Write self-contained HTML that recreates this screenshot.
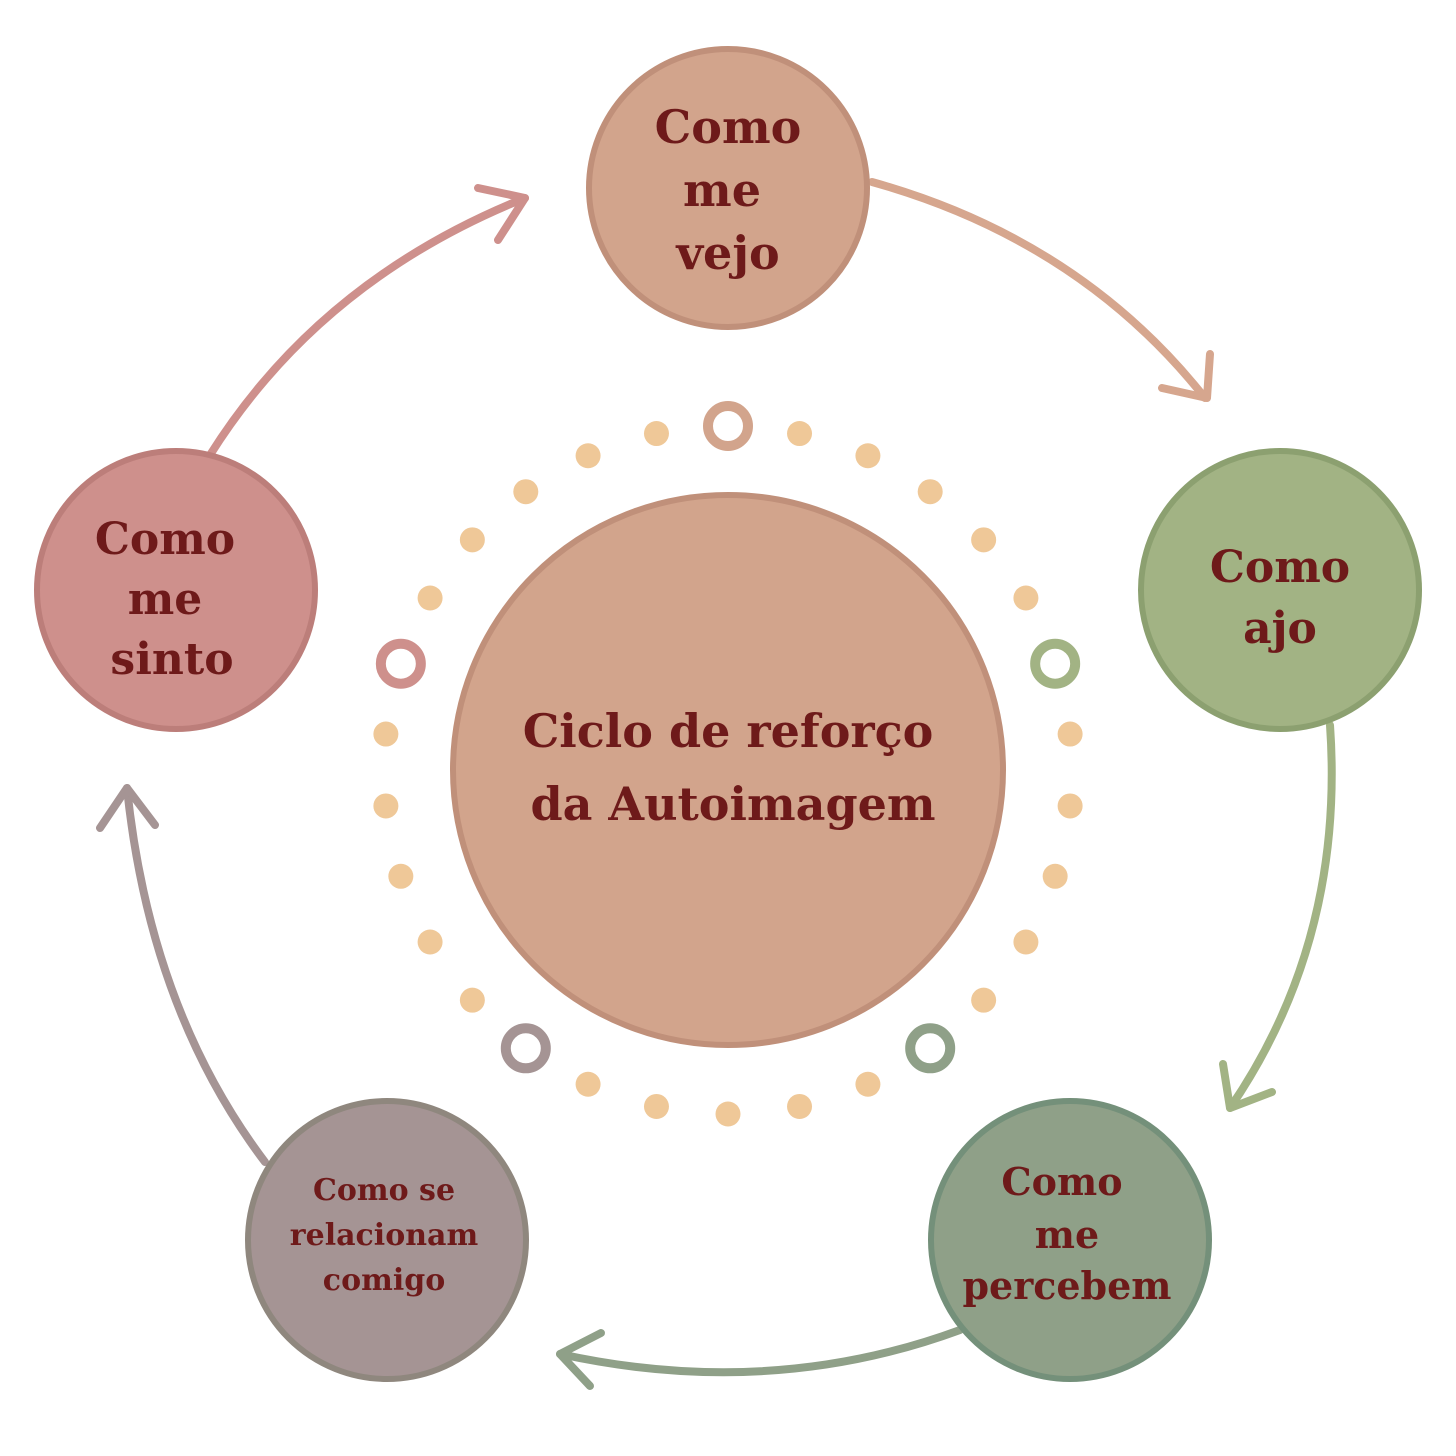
<!DOCTYPE html>
<html><head><meta charset="utf-8"><style>
html,body{margin:0;padding:0;background:#fff;}
svg{display:block}
text{font-family:"DejaVu Serif","Liberation Serif",serif;font-weight:bold;fill:#6E1A1A;text-anchor:middle}
</style></head><body>
<svg width="1456" height="1456" viewBox="0 0 1456 1456" xmlns="http://www.w3.org/2000/svg">
<g fill="none" stroke-width="8" stroke-linecap="round" stroke-linejoin="round">
<path d="M872 182 Q1080 240 1205 398" stroke="#D6A68E"/>
<path d="M1162 388 L1207 398 L1210 354" stroke="#D6A68E"/>
<path d="M1330 725 Q1345 940 1230 1108" stroke="#A2B384"/>
<path d="M1223 1064 L1230 1108 L1272 1092" stroke="#A2B384"/>
<path d="M960 1330 Q770 1400 560 1354" stroke="#8FA088"/>
<path d="M601 1333 L560 1354 L590 1386" stroke="#8FA088"/>
<path d="M265 1162 Q150 1010 127 788" stroke="#A59494"/>
<path d="M100 828 L127 788 L155 825" stroke="#A59494"/>
<path d="M210 455 Q320 280 525 198" stroke="#CE908C"/>
<path d="M478 188 L525 198 L498 240" stroke="#CE908C"/>
</g>
<g stroke-width="6">
<circle cx="728" cy="188" r="139" fill="#D2A48C" stroke="#C0907A"/>
<circle cx="1280" cy="590" r="139" fill="#A2B384" stroke="#8CA070"/>
<circle cx="1070" cy="1240" r="139" fill="#8FA088" stroke="#74907A"/>
<circle cx="387" cy="1240" r="139" fill="#A59494" stroke="#8F877E"/>
<circle cx="176" cy="590" r="139" fill="#CE908C" stroke="#BC7E7A"/>
<circle cx="728" cy="770" r="275" fill="#D2A48C" stroke="#C0907A"/>
</g>
<g id="dots"></g>
<text x="728" y="143" font-size="46">Como</text>
<text x="722" y="206" font-size="46">me</text>
<text x="728" y="269" font-size="46">vejo</text>
<text x="1280" y="582" font-size="44">Como</text>
<text x="1280" y="643" font-size="44">ajo</text>
<text x="1062" y="1195" font-size="38">Como</text>
<text x="1067" y="1248" font-size="38">me</text>
<text x="1067" y="1299" font-size="38">percebem</text>
<text x="384" y="1200" font-size="30">Como se</text>
<text x="384" y="1245" font-size="30">relacionam</text>
<text x="384" y="1290" font-size="30">comigo</text>
<text x="165" y="554" font-size="44">Como</text>
<text x="165" y="614" font-size="44">me</text>
<text x="172" y="674" font-size="44">sinto</text>
<text x="728" y="747" font-size="46">Ciclo de reforço</text>
<text x="733" y="820" font-size="46">da Autoimagem</text>
<script>
(function(){
var g=document.getElementById('dots'),ns='http://www.w3.org/2000/svg';
var ringCols=['#D2A48C','#A2B384','#8FA088','#A59494','#CE908C'];
for(var i=0;i<30;i++){
 var a=(-90+i*12)*Math.PI/180,x=728+344*Math.cos(a),y=770+344*Math.sin(a);
 var c=document.createElementNS(ns,'circle');
 c.setAttribute('cx',x);c.setAttribute('cy',y);
 if(i%6==0){c.setAttribute('r',20);c.setAttribute('fill','none');c.setAttribute('stroke',ringCols[i/6]);c.setAttribute('stroke-width',10);}
 else{c.setAttribute('r',12.5);c.setAttribute('fill','#EFC898');}
 g.appendChild(c);
}
})();
</script>
</svg>
</body></html>
